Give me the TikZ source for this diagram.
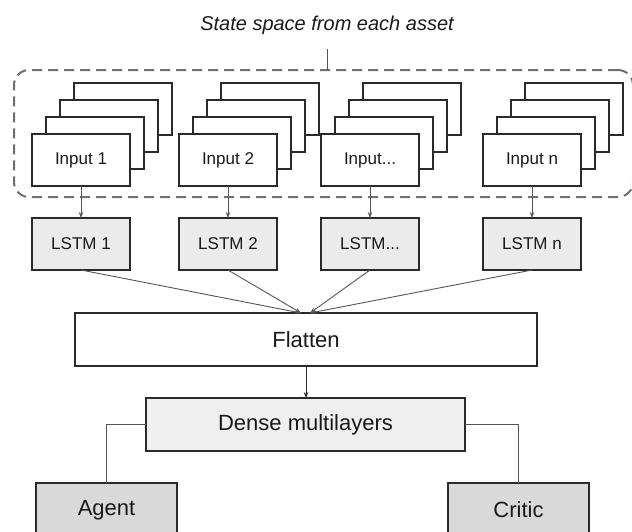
\documentclass[tikz,border=0pt]{standalone}
\usepackage{fontspec}
\setmainfont{Liberation Sans}
\usepackage{xcolor}
\usepackage{tikz}
\usetikzlibrary{arrows.meta, positioning}

\definecolor{boxline}{HTML}{2A2A2A}
\definecolor{linegray}{HTML}{555555}
\definecolor{dashgray}{HTML}{707070}
\definecolor{lstmfill}{HTML}{EBEBEB}
\definecolor{densefill}{HTML}{EFEFEF}
\definecolor{headfill}{HTML}{D9D9D9}

\begin{document}
\begin{tikzpicture}[x=1pt, y=-1pt,
                    card/.style={rectangle, draw=boxline, fill=white, line width=1.2pt, minimum width=98pt, minimum height=52pt, outer sep=0pt, text=black!90, font=\fontsize{17}{20}\selectfont},
                    lstm/.style={card, fill=lstmfill},
                    wide/.style={rectangle, draw=boxline, line width=1.2pt, minimum height=53pt, outer sep=0pt, text=black!90, font=\fontsize{22}{26}\selectfont},
                    head/.style={wide, fill=headfill, minimum width=141pt, minimum height=54pt},
                    link/.style={draw=linegray, line width=0.9pt, -{Stealth[length=6pt, width=4.5pt]}},
                    tie/.style={draw=linegray, line width=0.9pt}]

\useasboundingbox (0,0) rectangle (632,531);

% Title and the dashed frame round the inputs
\node[font=\fontsize{20}{24}\selectfont\itshape, text=black!90] (title) at (327,25) {State space from each asset};
\node[rectangle, draw=dashgray, line width=2pt, dash pattern=on 10pt off 6pt, rounded corners=15pt, minimum width=619pt, minimum height=127pt, outer sep=0pt] (statebox) at (323.5,133.5) {};
\coordinate (tick) at (327,49);
\draw[tie] (tick) -- (tick |- statebox.north);

% Stacks of inputs, back cards first
\node[card] (in1c) at (123,109) {};
\node[card] (in1b) at (109,126) {};
\node[card] (in1a) at (95,143) {};
\node[card] (in1) at (81,160) {Input 1};

\node[card] (in2c) at (270,109) {};
\node[card] (in2b) at (256,126) {};
\node[card] (in2a) at (242,143) {};
\node[card] (in2) at (228,160) {Input 2};

\node[card] (in3c) at (412,109) {};
\node[card] (in3b) at (398,126) {};
\node[card] (in3a) at (384,143) {};
\node[card] (in3) at (370,160) {Input...};

\node[card] (in4c) at (574,109) {};
\node[card] (in4b) at (560,126) {};
\node[card] (in4a) at (546,143) {};
\node[card] (in4) at (532,160) {Input n};

% LSTM row
\node[lstm] (lstm1) at (81,244) {LSTM 1};
\node[lstm] (lstm2) at (228,244) {LSTM 2};
\node[lstm] (lstm3) at (370,244) {LSTM...};
\node[lstm] (lstm4) at (532,244) {LSTM n};

% Lower blocks
\node[wide, minimum width=462pt] (flatten) at (306,339.5) {Flatten};
\node[wide, fill=densefill, minimum width=319pt] (dense) at (305.5,424.5) {Dense multilayers};
\node[head] (agent) at (106.5,510) {Agent};
\node[head] (critic) at (518.5,510) {Critic};

% Connectors
\draw[link] (in1) -- (lstm1);
\draw[link] (in2) -- (lstm2);
\draw[link] (in3) -- (lstm3);
\draw[link] (in4) -- (lstm4);

\draw[link] (lstm1.south) -- ([xshift=-5pt]flatten.north);
\draw[link] (lstm2.south) -- ([xshift=-5pt]flatten.north);
\draw[link] (lstm3.south) -- ([xshift=4pt]flatten.north);
\draw[link] (lstm4.south) -- ([xshift=4pt]flatten.north);

\draw[link, draw=boxline] (flatten) -- (flatten.south |- dense.north);
\draw[tie] (dense.west) -| (agent.north);
\draw[tie] (dense.east) -| (critic.north);

\end{tikzpicture}
\end{document}
